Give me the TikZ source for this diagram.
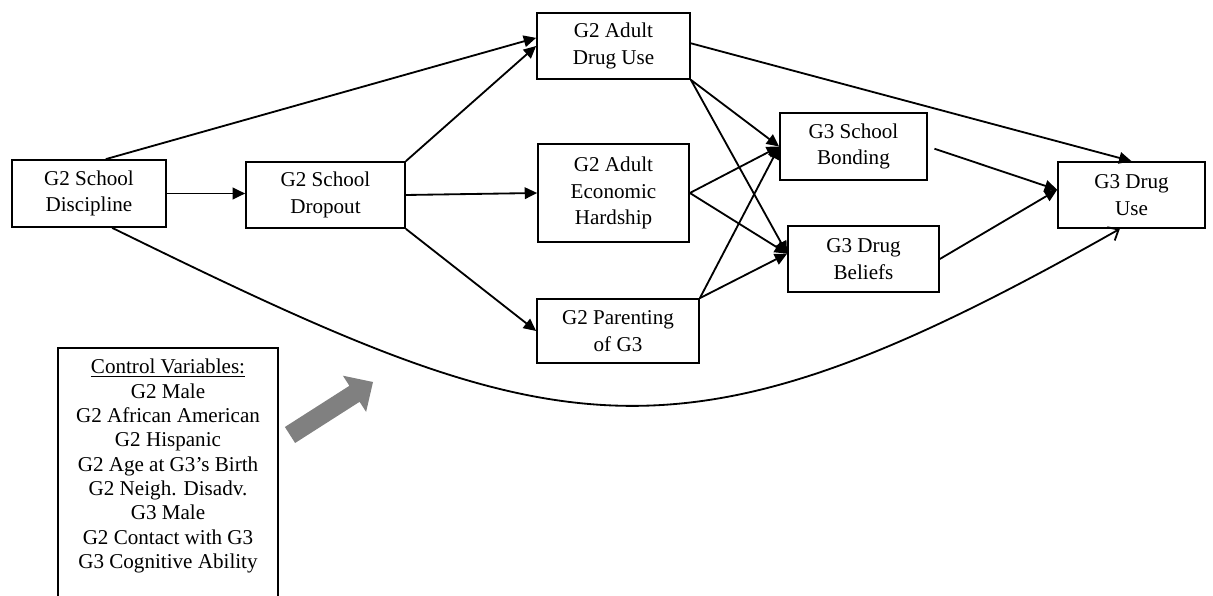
\documentclass[tikz,border=0pt]{standalone}
\usepackage{fontspec}
\setmainfont{Liberation Serif}
\usetikzlibrary{arrows.meta}

\begin{document}
\begin{tikzpicture}[x=0.025cm,y=-0.025cm,
            var/.style={draw,line width=1.2pt,align=center,inner sep=0pt,font=\fontsize{15}{19}\selectfont},
            link/.style={line width=1.3pt,-{Triangle[length=0.31cm,width=0.29cm]}}]
            \useasboundingbox (0,0) rectangle (1213,596);

            \node[var,minimum width=3.85cm,minimum height=1.675cm] (disc) at (89,193.5) {G2 School\\Discipline};
            \node[var,minimum width=3.975cm,minimum height=1.65cm] (drop) at (325.5,195) {G2 School\\Dropout};
            \node[var,minimum width=3.825cm,minimum height=1.65cm] (adu) at (613.5,46) {G2 Adult\\Drug Use};
            \node[var,minimum width=3.775cm,minimum height=2.45cm] (ech) at (613.5,193) {G2 Adult\\Economic\\Hardship};
            \node[var,minimum width=4.05cm,minimum height=1.6cm] (par) at (618,331) {G2 Parenting\\of G3};
            \node[var,minimum width=3.675cm,minimum height=1.675cm] (bond) at (853.5,146.5) {G3 School\\Bonding};
            \node[var,minimum width=3.775cm,minimum height=1.65cm] (beli) at (863.5,259) {G3 Drug\\Beliefs};
            \node[var,minimum width=3.675cm,minimum height=1.65cm] (g3du) at (1131.5,195) {G3 Drug\\Use};

            \node[draw,line width=1.2pt,anchor=north,minimum width=5.5cm,align=center,inner ysep=8pt,
                  font=\fontsize{15}{17.3}\selectfont] (ctrl) at (168,347)
                  {\underline{Control Variables:}\\G2 Male\\G2 African American\\G2 Hispanic\\G2 Age at G3's Birth\\
                   G2 Neigh. Disadv.\\G3 Male\\G2 Contact with G3\\G3 Cognitive Ability\\ \mbox{}\\ \mbox{}};

            \draw[link] (disc.64) to (adu.174);
            \draw[link] (disc.east) to (disc.east -| drop.west);
            \draw[link] (drop.north east) to (adu.west);
            \draw[link] (drop.east) to (ech.west);
            \draw[link] (drop.south east) to (par.west);
            \draw[link] (adu.2) to (g3du.north);
            \draw[link] (adu.south east) to (bond.west);
            \draw[link] (adu.south east) to (beli.176);
            \draw[link] (ech.east) to (bond.west);
            \draw[link] (ech.east) to (beli.176);
            \draw[link] (par.north east) to (bond.west);
            \draw[link] (par.north east) to (beli.176);
            \draw[link,shorten <=0.175cm] (bond.east) to (g3du.176);
            \draw[link] (beli.east) to (g3du.176);
            \draw[line width=1.3pt,-{Straight Barb[length=0.22cm,width=0.38cm]}] (disc.304) .. controls (559,447) and (673,482) .. (g3du.251);

            \fill[gray] (284.9,427) -- (349.4,385.8) -- (342.9,375.7) -- (373,382) -- (366.1,411.9) -- (359.6,401.8) -- (295.1,443) -- cycle;
        \end{tikzpicture}
\end{document}
